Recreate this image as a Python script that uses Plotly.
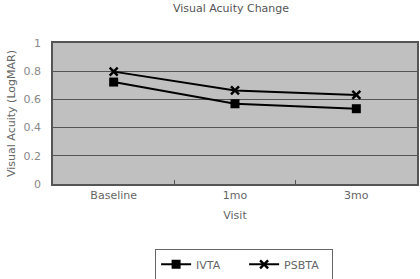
import plotly.graph_objects as go

visits = ["Baseline", "1mo", "3mo"]
ivta = [0.723, 0.569, 0.534]
psbta = [0.797, 0.664, 0.632]
y_ticks = [0, 0.2, 0.4, 0.6, 0.8, 1]
y_ticklabels = ["0", "0.2", "0.4", "0.6", "0.8", "1"]

fig = go.Figure()
fig.add_trace(go.Scatter(
    x=visits, y=ivta, name="IVTA", mode="lines+markers",
    line=dict(color="black", width=2),
    marker=dict(symbol="square", size=9, color="black"),
))
fig.add_trace(go.Scatter(
    x=visits, y=psbta, name="PSBTA", mode="lines+markers",
    line=dict(color="black", width=2),
    marker=dict(symbol="x-thin", size=8, color="black", line=dict(width=2.5, color="black")),
))

font_color = "#666666"
fig.update_layout(
    width=420, height=279,
    margin=dict(l=53, r=3, t=43, b=95),
    paper_bgcolor="white",
    plot_bgcolor="#c0c0c0",
    font=dict(family="DejaVu Sans", size=11, color=font_color),
    title=dict(text="Visual Acuity Change", x=0.55, xanchor="center", yref="container",
               y=0.985, yanchor="top", pad=dict(t=0, b=0),
               font=dict(size=11, color="#555555")),
    showlegend=True,
    legend=dict(orientation="h", x=0.525, xanchor="center",
                yref="container", y=0.108, yanchor="top",
                bordercolor="#666666", borderwidth=1, bgcolor="white",
                font=dict(size=11, color=font_color),
                entrywidth=43, entrywidthmode="pixels",
                tracegroupgap=0),
    xaxis=dict(
        type="category", range=[-0.5, 2.5], automargin=False,
        showline=True, linecolor="#555555", linewidth=1.5, mirror=True,
        ticks="inside", tickson="boundaries", ticklen=4, tickcolor="#555555",
        showgrid=False,
        title=dict(text="Visit", standoff=10, font=dict(size=11, color=font_color)),
        tickfont=dict(size=11, color=font_color),
    ),
    yaxis=dict(
        range=[0, 1], tickvals=y_ticks, ticktext=y_ticklabels, automargin=False,
        showline=True, linecolor="#555555", linewidth=1.5, mirror=True,
        showgrid=True, gridcolor="#555555", gridwidth=1,
        zeroline=False,
        ticks="", ticklabelstandoff=8,
        title=dict(text="Visual Acuity (LogMAR)", standoff=6, font=dict(size=11, color=font_color)),
        tickfont=dict(size=11, color="#888888"),
    ),
)

fig.write_html("out.html", config={"displayModeBar": False},
               post_script="document.body.style.margin='0';")
